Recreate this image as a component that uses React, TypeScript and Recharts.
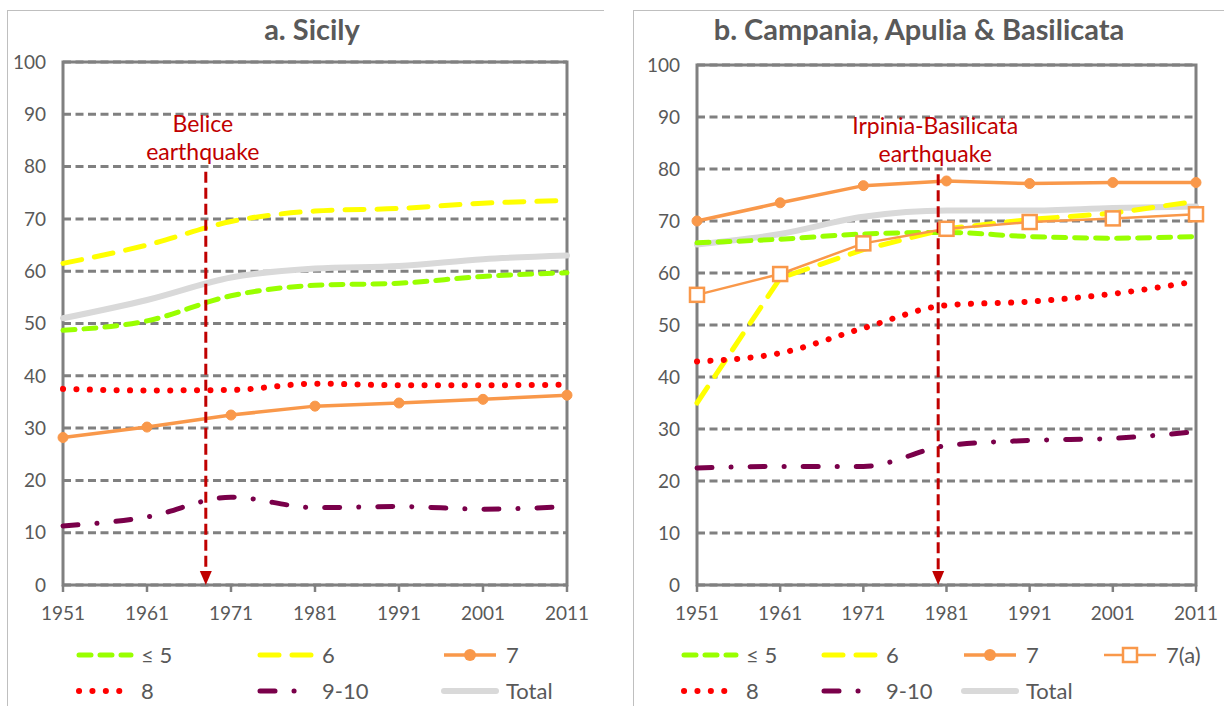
import React from 'react';
import {
  CartesianGrid,
  Legend,
  Line,
  LineChart,
  ReferenceArea,
  ReferenceLine,
  XAxis,
  YAxis,
} from 'recharts';

const years = [1951, 1961, 1971, 1981, 1991, 2001, 2011];
const yTicks = [0, 10, 20, 30, 40, 50, 60, 70, 80, 90, 100];

// a. Sicily
const sicilyLe5 = [48.7, 50.5, 55.3, 57.3, 57.7, 59.0, 59.7];
const sicily6 = [61.5, 65.0, 69.5, 71.5, 72.0, 73.0, 73.5];
const sicily7 = [28.2, 30.2, 32.5, 34.2, 34.8, 35.5, 36.3];
const sicily8 = [37.5, 37.2, 37.3, 38.5, 38.2, 38.2, 38.3];
const sicily910 = [11.3, 13.0, 16.8, 14.8, 15.0, 14.5, 15.0];
const sicilyTotal = [51.0, 54.5, 58.8, 60.5, 61.0, 62.3, 63.0];
const sicilyQuakeYear = 1968;

// b. Campania, Apulia & Basilicata
const campLe5 = [65.8, 66.5, 67.5, 67.8, 67.0, 66.7, 67.0];
const camp6 = [35.0, 59.0, 64.5, 68.5, 70.3, 71.5, 73.8];
const camp7 = [70.0, 73.5, 76.8, 77.7, 77.2, 77.4, 77.4];
const camp7a = [55.8, 59.8, 65.7, 68.5, 69.8, 70.5, 71.3];
const camp8 = [43.0, 44.6, 49.4, 53.8, 54.5, 56.0, 58.4];
const camp910 = [22.5, 22.8, 22.8, 26.8, 27.8, 28.2, 29.5];
const campTotal = [65.5, 67.5, 70.8, 72.0, 72.0, 72.5, 72.8];
const campQuakeYear = 1980;

const GRAY_TEXT = '#595959';
const AXIS_GRAY = '#808080';
const QUAKE_RED = '#C00000';
const FONT = 'Lato, "Noto Sans", sans-serif';

type CurveType = 'monotone' | 'linear';

type SeriesStyle = {
  color: string;
  width: number;
  dash?: string;
  cap?: 'round' | 'butt';
  type: CurveType;
  marker?: 'circle' | 'square';
};

const STYLES: Record<string, SeriesStyle> = {
  total: { color: '#D9D9D9', width: 6, type: 'monotone', cap: 'round' },
  le5: { color: '#99FF00', width: 5, dash: '12 9', cap: 'round', type: 'monotone' },
  s6: { color: '#FFFF00', width: 5, dash: '19 13', cap: 'round', type: 'monotone' },
  s8: { color: '#FF0000', width: 6, dash: '0.1 13.3', cap: 'round', type: 'monotone' },
  s910: { color: '#7A004A', width: 5, dash: '15 19 0.1 19', cap: 'round', type: 'monotone' },
  s7: { color: '#F9984A', width: 3.5, type: 'linear', marker: 'circle' },
  s7a: { color: '#F9984A', width: 2.5, type: 'linear', marker: 'square' },
};

type SeriesDef = { key: string; label: string; style: string; values: number[]; curve?: CurveType };

const sicilySeries: SeriesDef[] = [
  { key: 'total', label: 'Total', style: 'total', values: sicilyTotal },
  { key: 'le5', label: '≤ 5', style: 'le5', values: sicilyLe5 },
  { key: 's6', label: '6', style: 's6', values: sicily6 },
  { key: 's8', label: '8', style: 's8', values: sicily8 },
  { key: 's910', label: '9-10', style: 's910', values: sicily910 },
  { key: 's7', label: '7', style: 's7', values: sicily7 },
];

const campSeries: SeriesDef[] = [
  { key: 'total', label: 'Total', style: 'total', values: campTotal },
  { key: 'le5', label: '≤ 5', style: 'le5', values: campLe5 },
  { key: 's6', label: '6', style: 's6', values: camp6, curve: 'linear' },
  { key: 's8', label: '8', style: 's8', values: camp8 },
  { key: 's910', label: '9-10', style: 's910', values: camp910 },
  { key: 's7', label: '7', style: 's7', values: camp7 },
  { key: 's7a', label: '7(a)', style: 's7a', values: camp7a },
];

// legend slots: [seriesKey, x, row]
const sicilyLegend: [string, number, number][] = [
  ['le5', 76, 0], ['s6', 257, 0], ['s7', 441, 0],
  ['s8', 76, 1], ['s910', 257, 1], ['total', 441, 1],
];
const campLegend: [string, number, number][] = [
  ['le5', 69, 0], ['s6', 209, 0], ['s7', 349, 0], ['s7a', 489, 0],
  ['s8', 69, 1], ['s910', 209, 1], ['total', 349, 1],
];

function buildRows(series: SeriesDef[]) {
  return years.map((year, i) => {
    const row: Record<string, number> = { year };
    series.forEach((s) => {
      row[s.key] = s.values[i];
    });
    return row;
  });
}

function SquareDot(props: any) {
  const { cx, cy, index } = props;
  if (cx == null || cy == null) return null;
  return (
    <rect key={`sq-${index}`} x={cx - 7} y={cy - 7} width={14} height={14} fill="#fff" stroke={STYLES.s7a.color} strokeWidth={2.5} />
  );
}

function QuakeShape(props: any) {
  const { x1, y1, x2, y2, lines, labelDy } = props;
  return (
    <g>
      <line x1={x1} y1={y1} x2={x2} y2={y2 - 12} stroke={QUAKE_RED} strokeWidth={3} strokeDasharray="11 5" />
      <polygon points={`${x2 - 6},${y2 - 14} ${x2 + 6},${y2 - 14} ${x2},${y2}`} fill={QUAKE_RED} />
      {lines.map((t: string, i: number) => (
        <text key={t} x={x1 - 3} y={y1 + labelDy + i * 28} textAnchor="middle" fill={QUAKE_RED} fontSize={23} fontFamily={FONT}>
          {t}
        </text>
      ))}
    </g>
  );
}

function LegendSample({ styleKey }: { styleKey: string }) {
  const st = STYLES[styleKey];
  return (
    <svg width={58} height={14} style={{ overflow: 'visible' }}>
      <line x1={3} y1={7} x2={55} y2={7} stroke={st.color} strokeWidth={st.width} strokeDasharray={st.dash} strokeLinecap={st.cap ?? 'butt'} />
      {st.marker === 'circle' && <circle cx={29} cy={7} r={6} fill={st.color} />}
      {st.marker === 'square' && <rect x={22} y={0} width={14} height={14} fill="#fff" stroke={st.color} strokeWidth={2.5} />}
    </svg>
  );
}

function PanelLegend({ series, slots }: { series: SeriesDef[]; slots: [string, number, number][] }) {
  return (
    <div style={{ position: 'relative', width: 612, height: 76 }}>
      {slots.map(([key, x, row]) => {
        const s = series.find((d) => d.key === key)!;
        return (
          <div key={key} style={{ position: 'absolute', left: x, top: 18 + row * 36, display: 'flex', alignItems: 'center', height: 14 }}>
            <LegendSample styleKey={s.style} />
            <span style={{ marginLeft: 7, fontSize: 22, color: GRAY_TEXT, fontFamily: FONT, lineHeight: '14px' }}>{s.label}</span>
          </div>
        );
      })}
    </div>
  );
}

type PanelProps = {
  title: string;
  series: SeriesDef[];
  slots: [string, number, number][];
  quakeYear: number;
  quakeLines: string[];
  left: number;
  margin: { top: number; right: number; left: number; bottom: number };
  titleX: number;
};

function Panel({ title, series, slots, quakeYear, quakeLines, left, margin, titleX }: PanelProps) {
  const data = buildRows(series);
  return (
    <div style={{ position: 'absolute', left, top: 0, width: 612, height: 706 }}>
      <div
        style={{
          position: 'absolute',
          left: 0,
          width: titleX * 2,
          top: 11,
          textAlign: 'center',
          fontFamily: FONT,
          fontWeight: 700,
          fontSize: 29,
          color: GRAY_TEXT,
        }}
      >
        {title}
      </div>
      <LineChart width={612} height={706} data={data} margin={margin}>
        <CartesianGrid horizontal vertical={false} stroke={AXIS_GRAY} strokeWidth={3} strokeDasharray="8 4.5" />
        <ReferenceArea x1={1951} x2={2011} y1={0} y2={100} fill="none" stroke={AXIS_GRAY} strokeWidth={3} ifOverflow="visible" />
        <XAxis
          dataKey="year"
          type="number"
          domain={[1951, 2011]}
          ticks={years}
          axisLine={false}
          tickLine={{ stroke: AXIS_GRAY, strokeWidth: 2.5 }}
          tickSize={7}
          tickMargin={15}
          height={40}
          tick={{ fill: GRAY_TEXT, fontSize: 19, fontFamily: FONT }}
          interval={0}
        />
        <YAxis
          domain={[0, 100]}
          ticks={yTicks}
          axisLine={false}
          tickLine={false}
          tickSize={0}
          tickMargin={17}
          width={60}
          tick={{ fill: GRAY_TEXT, fontSize: 19, fontFamily: FONT }}
          interval={0}
        />
        {series.map((s) => {
          const st = STYLES[s.style];
          return (
            <Line
              key={s.key}
              dataKey={s.key}
              name={s.label}
              type={s.curve ?? st.type}
              stroke={st.color}
              strokeWidth={st.width}
              strokeDasharray={st.dash}
              strokeLinecap={st.cap ?? 'butt'}
              dot={
                st.marker === 'circle'
                  ? { r: 5, fill: st.color, stroke: st.color, strokeWidth: 1 }
                  : st.marker === 'square'
                    ? SquareDot
                    : false
              }
              activeDot={false}
              isAnimationActive={false}
            />
          );
        })}
        <ReferenceLine
          segment={[
            { x: quakeYear, y: 79 },
            { x: quakeYear, y: 0 },
          ]}
          ifOverflow="visible"
          shape={(p: any) => <QuakeShape {...p} lines={quakeLines} labelDy={-40} />}
        />
        <Legend
          content={() => <PanelLegend series={series} slots={slots} />}
          wrapperStyle={{ position: 'absolute', left: 0, top: 630, width: 612, height: 76 }}
        />
      </LineChart>
    </div>
  );
}

export default function App() {
  return (
    <div style={{ position: 'absolute', left: 0, top: 0, width: 1224, height: 706, background: '#fff', overflow: 'hidden' }}>
      <div style={{ position: 'absolute', left: 7, top: 10, width: 596, height: 700, borderTop: '1px solid #BFBFBF', borderLeft: '1px solid #BFBFBF' }} />
      <div style={{ position: 'absolute', left: 633, top: 10, width: 600, height: 700, borderTop: '1px solid #BFBFBF', borderLeft: '1px solid #BFBFBF' }} />
      <Panel
        title="a. Sicily"
        series={sicilySeries}
        slots={sicilyLegend}
        quakeYear={sicilyQuakeYear}
        quakeLines={['Belice', 'earthquake']}
        left={0}
        margin={{ top: 62, right: 45, left: 3, bottom: 5 }}
        titleX={312}
      />
      <Panel
        title="b. Campania, Apulia & Basilicata"
        series={campSeries}
        slots={campLegend}
        quakeYear={campQuakeYear}
        quakeLines={['Irpinia-Basilicata', 'earthquake']}
        left={612}
        margin={{ top: 65, right: 28, left: 25, bottom: 5 }}
        titleX={307}
      />
    </div>
  );
}
